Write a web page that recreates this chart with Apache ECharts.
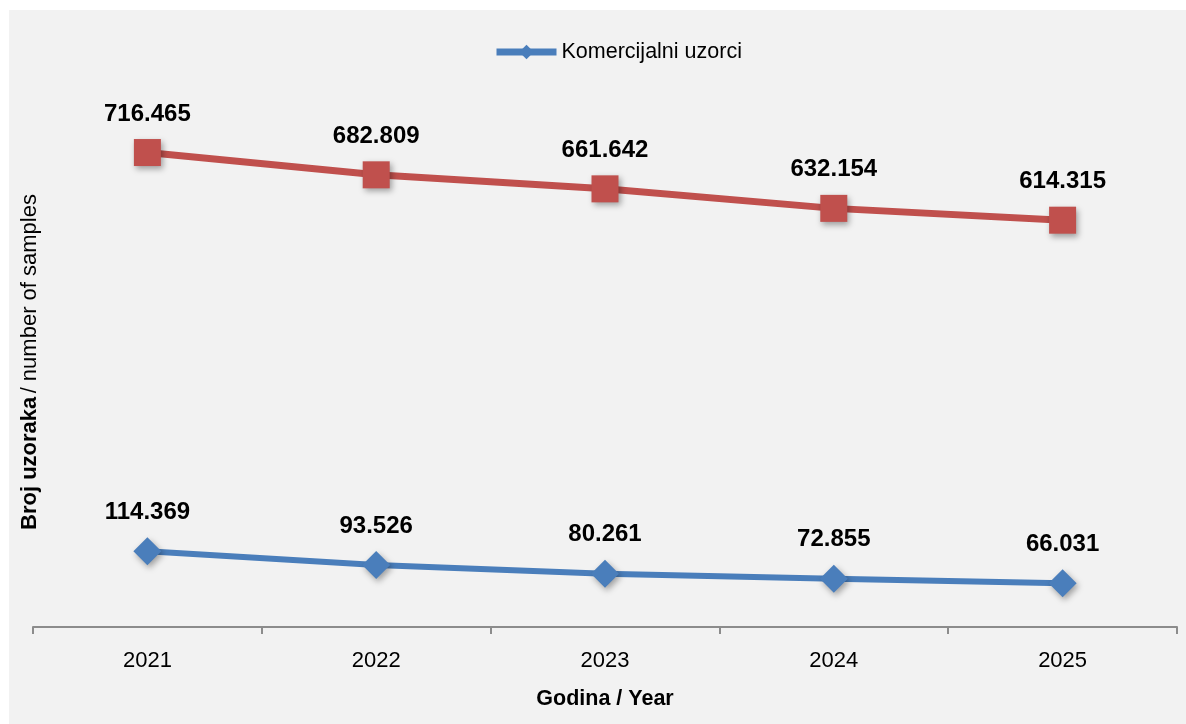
<!DOCTYPE html>
<html><head><meta charset="utf-8">
<script src="https://cdn.jsdelivr.net/npm/echarts@6/dist/echarts.min.js"></script>
<style>
html,body{margin:0;padding:0;background:#fff;width:1186px;height:724px;overflow:hidden}
#c{position:absolute;left:9px;top:10px;width:1177px;height:714px;background:#f2f2f2}
</style></head><body>
<div id="c"></div>
<script>
const years = ['2021','2022','2023','2024','2025'];
const ukupno = [716.465, 682.809, 661.642, 632.154, 614.315];
const komercijalni = [114.369, 93.526, 80.261, 72.855, 66.031];
const FONT = '"Liberation Sans Narrow","Arial Narrow","Liberation Sans",Arial,sans-serif';
const fmt = v => v.toFixed(3);
const chart = echarts.init(document.getElementById('c'));
const labelCfg = {show:true, position:'top', distance:13, fontFamily:FONT, fontSize:24, fontWeight:'bold', color:'#000',
  formatter: p => fmt(p.value)};
chart.setOption({
  backgroundColor:'#f2f2f2',
  animation:false,
  textStyle:{fontFamily:FONT},
  legend:{data:['Komercijalni uzorci'], top:26, left:479, itemWidth:60, itemHeight:18, itemGap:2,
    lineStyle:{width:7},
    textStyle:{fontFamily:FONT, fontSize:21.5, color:'#000'}},
  grid:{left:24, right:9, top:21, bottom:97, containLabel:false, outerBoundsMode:'none'},
  xAxis:{type:'category', data:years, boundaryGap:true,
    axisLine:{lineStyle:{color:'#8c8c8c', width:2}},
    axisTick:{show:true, length:7, lineStyle:{color:'#8c8c8c', width:2}},
    axisLabel:{fontFamily:FONT, fontSize:22, color:'#000', margin:23},
    name:'Godina / Year', nameLocation:'middle', nameGap:61,
    nameTextStyle:{fontFamily:FONT, fontSize:21.5, fontWeight:'bold', color:'#000'}},
  yAxis:{type:'value', min:0, max:900, splitLine:{show:false}, axisLine:{show:false}, axisTick:{show:false}, axisLabel:{show:false},
    name:'{b|Broj uzoraka} {n|/ number of samples}', nameLocation:'middle', nameRotate:90, nameGap:-8,
    nameTextStyle:{padding:[0,66,0,0], rich:{b:{fontFamily:FONT, fontSize:22, fontWeight:'bold', color:'#000'}, n:{fontFamily:FONT, fontSize:22, color:'#000'}}}},
  series:[
    {name:'Ukupno', type:'line', data:ukupno, symbol:'rect', symbolSize:27,
      lineStyle:{color:'#c0504d', width:7},
      itemStyle:{color:'#c0504d', shadowBlur:6, shadowColor:'rgba(0,0,0,0.35)', shadowOffsetX:2, shadowOffsetY:3},
      label:labelCfg, z:3},
    {name:'Komercijalni uzorci', type:'line', data:komercijalni, symbol:'diamond', symbolSize:28,
      lineStyle:{color:'#4a7ebb', width:6},
      itemStyle:{color:'#4a7ebb', shadowBlur:6, shadowColor:'rgba(0,0,0,0.35)', shadowOffsetX:2, shadowOffsetY:3},
      label:labelCfg, z:3}
  ]
});
</script></body></html>
